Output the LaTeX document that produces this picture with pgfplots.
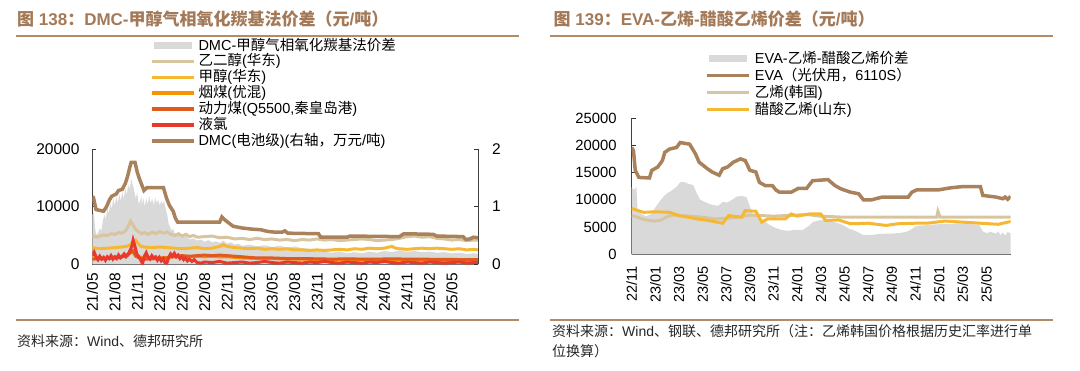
\documentclass[border=0pt]{standalone}
\usepackage{fontspec}
\setmainfont{Liberation Sans}
\newfontfamily\cjk{Noto Sans CJK SC}
\usepackage{pgfplots}
\pgfplotsset{compat=1.18}
\definecolor{cgray}{HTML}{D9D9D9}
\definecolor{ctan}{HTML}{D7C59F}
\definecolor{cyel}{HTML}{F6B833}
\definecolor{corg}{HTML}{F59300}
\definecolor{cdor}{HTML}{E0591E}
\definecolor{cred}{HTML}{E8392C}
\definecolor{cbrn}{HTML}{A9825B}
\definecolor{ctitle}{HTML}{A37957}
\definecolor{crule}{HTML}{B38B68}
\pgfplotsset{
  common/.style={
    scale only axis, anchor=south west,
    /pgf/number format/assume math mode=true,
    /pgf/number format/1000 sep={},
    scaled y ticks=false,
    tick align=inside, major tick length=4pt,
    tick style={black!80, line width=0.6pt},
    axis line style={black!75, line width=0.8pt},
    yticklabel style={inner sep=0pt},
    xticklabel style={rotate=90, anchor=east, inner sep=0pt},
    legend cell align=left,
    legend image code/.code={\draw[##1, line cap=round] (1.75pt,0pt) -- (40.25pt,0pt); \path (0pt,0pt) -- (42pt,0pt);},
  },
  arealeg/.style={legend image code/.code={\fill[cgray, draw=none] (2pt,-3.6pt) rectangle (40pt,3.6pt); \path (0pt,0pt) -- (42pt,0pt);}},
}
\begin{document}
\begin{tikzpicture}[x=1pt,y=1pt]
\useasboundingbox (0,0) rectangle (1080,370);
% titles and rules
\node[anchor=west, inner sep=0pt, text=ctitle, font=\fontsize{17}{17}\selectfont\bfseries] at (17,351) {{\cjk 图} 138{\cjk ：}DMC-{\cjk 甲醇气相氧化羰基法价差（元}/{\cjk 吨）}};
\node[anchor=west, inner sep=0pt, text=ctitle, font=\fontsize{17}{17}\selectfont\bfseries] at (553.5,351) {{\cjk 图} 139{\cjk ：}EVA-{\cjk 乙烯}-{\cjk 醋酸乙烯价差（元}/{\cjk 吨）}};
\draw[crule, line width=2pt] (15.5,334.3) -- (519,334.3);
\draw[crule, line width=2pt] (550,334.3) -- (1053,334.3);
\draw[crule, line width=1.5pt] (15.5,50) -- (519,50);
\draw[crule, line width=1.5pt] (550,50) -- (1053,50);
\node[anchor=west, inner sep=0pt, text=black!85, font=\fontsize{14}{14}\selectfont] at (17,29) {{\cjk 资料来源：}Wind{\cjk 、德邦研究所}};
\node[anchor=west, inner sep=0pt, text=black!85, font=\fontsize{14}{14}\selectfont] at (552,39) {{\cjk 资料来源：}Wind{\cjk 、钢联、德邦研究所（注：乙烯韩国价格根据历史汇率进行单}};
\node[anchor=west, inner sep=0pt, text=black!85, font=\fontsize{14}{14}\selectfont] at (552,19) {{\cjk 位换算）}};

% ---------- left chart, left axis ----------
\begin{axis}[common, at={(92.3pt,105.7pt)}, width=385.7pt, height=115.3pt,
  xmin=0, xmax=51.5, ymin=0, ymax=20000,
  axis x line*=bottom, axis y line*=left,
  ytick={0,10000,20000}, yticklabel shift=12.7pt,
  xtick={0,3,...,48}, xticklabel shift=8.6pt,
  xticklabels={21/05,21/08,21/11,22/02,22/05,22/08,22/11,23/02,23/05,23/08,23/11,24/02,24/05,24/08,24/11,25/02,25/05},
  yticklabel style={font=\fontsize{15.5}{15.5}\selectfont},
  xticklabel style={font=\fontsize{15.5}{15.5}\selectfont},
]
\addplot[fill=cgray, draw=none] table {
0 8600
0.2 8900
0.4 6000
0.6 5000
0.8 5600
1.0 6200
1.2 5800
1.4 7400
1.6 8600
1.8 7800
2.0 9800
2.2 8800
2.4 10600
2.6 9600
2.8 11400
3.0 10200
3.2 11800
3.4 10600
3.6 12200
3.8 11000
4.0 12600
4.2 11400
4.4 13200
4.6 12000
4.8 13800
5.0 13000
5.2 14800
5.4 13800
5.6 12800
5.8 11400
6.0 12400
6.2 10400
6.6 11800
6.6 10200
6.8 11600
7.0 10000
7.2 11400
7.4 10400
7.6 11800
7.8 10600
8.0 11400
8.2 10200
8.4 11600
8.6 10600
8.8 11200
9.0 10200
9.2 11000
9.4 10400
9.6 11000
9.8 9600
10.0 8600
10.2 7000
10.4 6400
10.6 5800
10.8 6200
11.0 5400
11.5 5100
12.0 4700
12.5 4900
13.0 4300
13.5 4500
14.0 4100
14.5 4300
15.0 3900
15.5 4200
16.0 3800
16.5 4000
17.0 3700
17.5 4100
18.0 3600
18.5 3800
19.0 3400
19.5 3600
20.0 3200
21 3400
22 3100
23 3300
24 3000
25 3200
26 2900
27 3100
28 2800
29 2700
30 2500
31 2200
32 2000
33 2200
34 1900
35 2100
36 1900
37 2200
38 2000
39 2300
40 2100
41 2400
42 2200
43 2300
44 2100
45 2200
46 2000
47 2100
48 1900
49 2000
50 1800
51 1900
51.5 1800
} \closedcycle;
\addplot[ctan, line width=3pt] table {
0 5000
0.5 4700
1 4900
1.5 5100
2 5000
2.5 5300
3 5200
3.5 5500
4 5400
4.5 5900
4.8 6600
5.1 7500
5.4 6900
5.8 6000
6.2 5600
6.6 5300
7 5500
7.5 5200
8 5600
8.5 5300
9 5700
9.5 5400
10 5600
10.5 5200
11 5000
11.5 5300
12 4900
12.5 5200
13 4800
13.5 5000
14 4700
15 4800
16 4900
17 4600
18 4700
19 4400
20 4500
21 4300
22 4500
23 4300
24 4400
25 4200
26 4300
27 4100
28 4300
29 4200
30 4400
31 4200
32 4300
33 4100
34 4200
35 4300
36 4400
37 4300
38 4100
39 4200
40 4300
41 4500
42 4800
43 4900
44 4700
45 4800
46 4500
47 4400
48 4200
49 4300
50 4100
51 4200
51.5 4200
};
\addplot[cyel, line width=3pt] table {
0 2900
1 2700
2 2800
3 2900
4 3000
4.5 3100
5 3300
5.5 3900
5.8 4200
6.1 3600
6.5 3100
7 3000
8 2900
9 3000
10 2900
11 2800
12 2700
13 2800
14 2900
15 2700
16 2800
17 3100
17.5 3400
18 3100
19 2900
20 2800
21 2700
22 2800
23 2600
24 2700
25 2600
26 2700
27 2500
28 2500
29 2400
30 2500
31 2400
32 2500
33 2600
34 2500
35 2700
36 2600
37 2800
38 2700
39 2800
40 3100
40.5 2800
41 2700
42 2600
43 2700
44 2800
45 2700
46 2800
47 2700
48 2600
49 2700
50 2500
51 2600
51.5 2500
};
\addplot[corg, line width=3pt] table {
0 1100
1 1000
2 1100
3 1200
4 1400
4.5 1600
5 2000
5.5 2400
6 1500
6.5 1200
7 1100
8 1200
9 1100
10 1200
11 1300
12 1400
13 1300
14 1400
15 1300
16 1400
17 1300
18 1300
19 1200
20 1100
22 1000
24 1000
26 900
28 900
30 850
32 800
34 800
36 850
38 800
40 800
42 750
44 750
46 700
48 700
50 650
51.5 650
};
\addplot[cdor, line width=3pt] table {
0 900
1 950
2 1000
3 1100
4 1300
4.5 1500
5 1900
5.4 2300
5.8 1400
6.5 1000
7 900
8 950
9 1000
10 1100
10.5 1300
11 1400
12 1500
13 1400
14 1500
15 1600
16 1500
17 1600
18 1500
19 1400
20 1300
21 1200
22 1100
24 1100
26 1000
28 1000
30 950
32 900
34 950
36 900
38 900
40 950
42 900
44 900
46 850
48 850
50 800
51.5 800
};
\addplot[cred, line width=3pt] table {
0 1500
0.25 2100
0.5 1300
0.75 800
1 1400
1.25 900
1.5 1200
1.75 700
2 1300
2.25 1000
2.5 1500
2.75 900
3 1300
3.25 1000
3.5 1600
3.75 1100
4 1400
4.25 1800
4.5 1300
4.75 1600
5 2300
5.25 3000
5.45 4200
5.7 3100
5.95 1800
6.2 1300
6.45 800
6.7 100
6.95 1400
7.2 2000
7.45 1200
7.7 900
7.95 1500
8.2 1100
8.45 1300
8.7 700
8.95 1200
9.2 600
9.45 1000
9.7 300
9.95 200
10.2 1200
10.45 1800
10.7 1400
10.95 1900
11.2 1300
11.45 1600
11.7 1000
11.95 1300
12.2 800
12.45 1100
12.7 600
12.95 900
13.3 500
13.6 800
14 300
14.5 200
15 400
16 300
17 500
18 200
19 300
20 400
21 200
22 300
23 500
24 300
25 200
26 400
27 300
28 200
29 400
30 300
31 500
32 300
33 200
34 400
35 300
36 200
37 400
38 300
39 500
40 300
41 200
42 400
43 300
44 200
45 400
46 300
47 200
48 300
49 400
50 200
51 300
51.5 300
};
\end{axis}

% ---------- left chart, right axis ----------
\begin{axis}[common, at={(92.3pt,105.7pt)}, width=385.7pt, height=115.3pt,
  xmin=0, xmax=51.5, ymin=0, ymax=2,
  axis x line=none, axis y line*=right,
  ytick={0,1,2}, yticklabel shift=14pt,
  yticklabel style={font=\fontsize{15.5}{15.5}\selectfont},
  legend style={at={(axis description cs:0.1496,1.9666)}, anchor=north west,
    draw=none, fill=none, inner sep=0pt, outer sep=0pt, row sep=0pt,
    font=\fontsize{14.5}{14.5}\selectfont,
    nodes={inner sep=0pt, text height=12.5pt, text depth=3.4pt},
    /tikz/every odd column/.append style={column sep=3pt}},
]
\addlegendimage{fill=cgray, draw=none, mark=none, arealeg}
\addlegendentry{DMC-{\cjk 甲醇气相氧化羰基法价差}}
\addlegendimage{ctan, line width=3.5pt, mark=none}
\addlegendentry{{\cjk 乙二醇}({\cjk 华东})}
\addlegendimage{cyel, line width=3.5pt, mark=none}
\addlegendentry{{\cjk 甲醇}({\cjk 华东})}
\addlegendimage{corg, line width=3.5pt, mark=none}
\addlegendentry{{\cjk 烟煤}({\cjk 优混})}
\addlegendimage{cdor, line width=3.5pt, mark=none}
\addlegendentry{{\cjk 动力煤}(Q5500,{\cjk 秦皇岛港})}
\addlegendimage{cred, line width=3.5pt, mark=none}
\addlegendentry{{\cjk 液氯}}
\addplot[cbrn, line width=3.5pt, mark=none] table {
0 1.17
0.15 1.16
0.5 0.95
1.5 0.92
1.9 1.00
2.3 1.12
2.6 1.18
3.2 1.22
3.5 1.28
4.0 1.30
4.4 1.40
4.7 1.52
5.0 1.68
5.2 1.77
5.7 1.77
6.0 1.60
6.3 1.48
6.6 1.38
6.9 1.28
7.3 1.33
9.5 1.33
9.9 1.15
10.3 1.02
10.8 0.92
11.1 0.80
11.4 0.73
17.0 0.73
17.3 0.82
17.6 0.78
18.0 0.74
18.8 0.66
20.0 0.63
21.3 0.61
22.5 0.60
23.4 0.57
24.2 0.56
25.4 0.56
25.7 0.58
26.1 0.54
30.2 0.53
30.5 0.47
34.0 0.47
34.4 0.49
41.0 0.48
41.6 0.53
45.5 0.52
46.0 0.49
49.5 0.48
49.9 0.43
50.4 0.44
50.9 0.47
51.5 0.46
};
\addlegendentry{DMC({\cjk 电池级})({\cjk 右轴，万元}/{\cjk 吨})}
\end{axis}

% ---------- right chart ----------
\begin{axis}[common, at={(631.7pt,115.7pt)}, width=379pt, height=136.3pt,
  xmin=0, xmax=32.06, ymin=0, ymax=25000,
  axis x line*=bottom, axis y line*=left,
  ytick={0,5000,...,25000}, yticklabel shift=15pt,
  xtick={0,2,...,30}, xticklabel shift=11.7pt,
  xticklabels={22/11,23/01,23/03,23/05,23/07,23/09,23/11,24/01,24/03,24/05,24/07,24/09,24/11,25/01,25/03,25/05},
  yticklabel style={font=\fontsize{14.8}{14.8}\selectfont},
  xticklabel style={font=\fontsize{14.5}{14.5}\selectfont},
  legend style={at={(axis description cs:0.1947,1.498)}, anchor=north west,
    draw=none, fill=none, inner sep=0pt, outer sep=0pt, row sep=0pt,
    font=\fontsize{14.5}{14.5}\selectfont,
    nodes={inner sep=0pt, text height=13pt, text depth=4pt},
    /tikz/every odd column/.append style={column sep=4pt}},
]
\addplot[fill=cgray, draw=none, arealeg] table {
0 12300
0.2 11800
0.4 12400
0.5 8000
0.8 7400
1.2 7000
1.6 7300
2.0 8600
2.4 9800
2.7 10600
3.0 11200
3.4 11700
3.8 12400
4.1 13200
4.4 13300
4.8 12900
5.2 12700
5.5 11200
5.8 10000
6.2 9600
6.6 9200
7.0 9000
7.3 8900
7.7 9600
8.1 9500
8.5 10000
8.9 10600
9.3 10700
9.7 10500
10.0 8800
10.2 7500
10.6 6800
11.1 6300
11.5 5600
12.0 5000
12.6 4500
13.2 4300
13.8 4500
14.4 4400
15.0 5200
15.3 5900
15.8 6200
16.4 6300
17.0 6000
17.6 5600
18.0 5200
18.4 4700
19.0 4200
19.6 3500
20.2 3500
20.8 3700
21.4 3800
22.0 3800
22.6 3900
23.2 4100
23.6 4500
24.0 5100
24.6 5300
25.2 5400
25.8 5500
26.4 5600
27.0 5500
27.6 5700
28.2 5600
28.8 5500
29.4 5400
29.7 4200
30.0 3900
30.4 4100
30.8 3800
31.0 4200
31.2 3500
31.4 4000
31.6 3400
31.8 4100
32.06 3800
} \closedcycle;
\addlegendentry{EVA-{\cjk 乙烯}-{\cjk 醋酸乙烯价差}}
\addplot[cbrn, line width=3.5pt] table {
0 19600
0.15 19000
0.3 15400
0.6 14100
1.5 14000
1.7 15400
2.2 16000
2.6 17200
2.8 18700
3.2 19300
3.8 19600
4.1 20500
4.9 20200
5.4 18400
5.7 16900
6.4 15700
6.8 15100
7.4 14500
7.7 15700
8.1 16000
8.6 16900
9.2 17500
9.6 17200
10.0 15400
10.5 15100
10.8 13200
11.3 12600
11.9 12600
12.2 11800
12.5 11400
13.5 11400
14.1 12100
14.8 12100
15.3 13500
16.6 13700
17.2 12600
17.7 12000
18.5 11400
19.2 11100
19.6 10000
20.3 10000
21.2 10500
23.4 10500
23.7 11400
24.1 11800
25.9 11800
27.0 12200
27.9 12400
29.5 12400
29.7 10800
30.8 10500
31.4 10200
31.6 10500
31.8 10100
32.06 10600
};
\addlegendentry{EVA{\cjk （光伏用，}6110S{\cjk ）}}
\addplot[ctan, line width=3pt] table {
0 7100
0.5 6800
1 6400
1.5 6200
2 6100
2.5 6300
3 6900
3.5 7200
4 7100
5 7000
6 6800
7 6500
8 6600
9 6800
9.5 7000
10 7200
11 7100
12 7000
13 7100
14 7200
15 7300
15.5 7100
16 7000
17 6900
18 6800
20 6800
22 6800
24 6800
25.8 6800
25.9 7900
26.1 6800
28 6800
30 6800
32.06 6800
};
\addlegendentry{{\cjk 乙烯}({\cjk 韩国})}
\addplot[cyel, line width=3pt] table {
0 8400
1 7700
2 7800
3.2 7700
4 7100
5.5 6500
6.5 6200
7.7 5700
8.2 7100
9.3 6800
9.6 8000
10.5 7900
11 5900
11.5 6500
13 6500
13.5 7400
14 7000
15 7400
16 7400
16.4 6200
17.5 6300
18.5 5600
20 5700
21.5 5300
22.5 5600
24 5700
25 5700
26.5 6100
28 5900
29.5 5700
31 5500
31.8 5900
32.06 6000
};
\addlegendentry{{\cjk 醋酸乙烯}({\cjk 山东})}
\end{axis}
\end{tikzpicture}
\end{document}
